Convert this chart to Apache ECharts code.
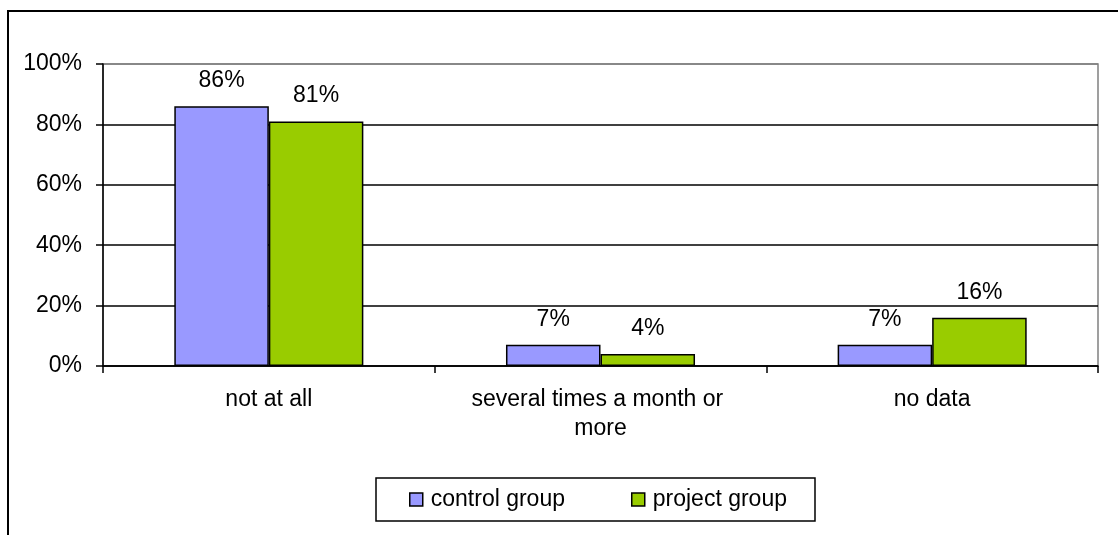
<!DOCTYPE html>
<html><head><meta charset="utf-8">
<script src="https://cdn.jsdelivr.net/npm/echarts@6/dist/echarts.min.js"></script>
<style>html,body{margin:0;padding:0;background:#fff}#c{width:1118px;height:535px}</style>
</head><body><div id="c"></div>
<script>
const categories = ["not at all", "several times a month or more", "no data"];
const controlGroup = [86, 7, 7];
const projectGroup = [81, 4, 16];
const seriesNames = ["control group", "project group"];
const yTicks = [0, 20, 40, 60, 80, 100];

const FONT = "'Liberation Sans', Arial, sans-serif";
const FS = 23;
const chart = echarts.init(document.getElementById('c'));
const labelOpt = {
  show: true, position: 'top', distance: 14,
  formatter: p => p.value + '%', color: '#000', fontFamily: FONT, fontSize: FS
};
chart.setOption({
  animation: false,
  backgroundColor: '#fff',
  graphic: [{
    type: 'rect', silent: true, z: 100,
    shape: { x: 8, y: 11, width: 1200, height: 600 },
    style: { fill: 'none', stroke: '#000', lineWidth: 2 }
  }],
  grid: { left: 103, right: 20, top: 64, bottom: 169, show: true, borderColor: '#808080', borderWidth: 1.5 },
  legend: {
    data: seriesNames, left: 376, top: 478,
    borderColor: '#000', borderWidth: 1.5,
    padding: [10, 28, 10, 33], itemGap: 66,
    icon: 'rect', itemWidth: 13, itemHeight: 13,
    itemStyle: { borderColor: '#000', borderWidth: 1.5 },
    textStyle: { fontFamily: FONT, fontSize: FS, color: '#000', padding: [0, 0, 0, 3] }
  },
  xAxis: {
    type: 'category', data: categories,
    axisLine: { lineStyle: { color: '#000', width: 1.5 } },
    axisTick: { show: true, length: 7, interval: 0, lineStyle: { color: '#000', width: 1.5 } },
    axisLabel: { interval: 0, color: '#000', fontFamily: FONT, fontSize: FS, margin: 19, width: 280, overflow: 'break', lineHeight: 29 }
  },
  yAxis: {
    type: 'value', min: 0, max: 100, interval: 20,
    axisLine: { show: true, lineStyle: { color: '#000', width: 1.5 } },
    axisTick: { show: true, length: 7, lineStyle: { color: '#000', width: 1.5 } },
    axisLabel: { color: '#000', fontFamily: FONT, fontSize: FS, margin: 21, formatter: v => yTicks.includes(v) ? v + '%' : '' },
    splitLine: { show: true, lineStyle: { color: ['#000', '#000', '#000', '#000', '#000', '#808080'], width: 1.5 } }
  },
  series: [
    { name: seriesNames[0], type: 'bar', data: controlGroup, barGap: '0%', barCategoryGap: '43%',
      itemStyle: { color: '#9999ff', borderColor: '#000', borderWidth: 1.5 }, label: labelOpt },
    { name: seriesNames[1], type: 'bar', data: projectGroup,
      itemStyle: { color: '#99cc00', borderColor: '#000', borderWidth: 1.5 }, label: labelOpt }
  ]
});
</script></body></html>
